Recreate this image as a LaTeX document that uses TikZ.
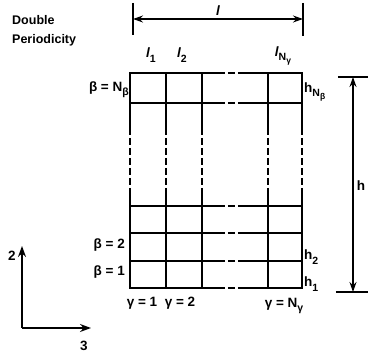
\documentclass[tikz,border=0pt]{standalone}
\usepackage{fontspec}
\setmainfont{Liberation Sans}
\usetikzlibrary{positioning,arrows.meta}

\newcommand{\lowsub}[1]{\raisebox{-0.32em}{\fontsize{10.5}{12}\selectfont#1}}
\newcommand{\lowsubb}[1]{\raisebox{-0.3em}{\fontsize{8.5}{10}\selectfont#1}}

\begin{document}
\begin{tikzpicture}[
    x=1pt, y=-1pt,
    gridline/.style={line width=1.4pt, line cap=rect},
    gapline/.style={line width=1.4pt, dash pattern=on 7pt off 3pt},
    dimline/.style={<->, >={Stealth[length=10pt, width=7pt]}, line width=1.3pt},
    dimtick/.style={line width=1.4pt},
    axisline/.style={->, >={Stealth[length=11pt, width=8pt]}, line width=1.3pt},
    lbl/.style={inner sep=0pt, font=\fontsize{13.5}{15}\selectfont\bfseries},
    title/.style={inner sep=0pt, anchor=west, font=\fontsize{12.5}{15}\selectfont\bfseries}
]
\useasboundingbox (0,0) rectangle (368,356);

% grid of cells
\foreach \cx in {130,166,202,268,302} {
  \draw[gridline] (\cx,73) -- (\cx,128);
  \draw[gapline] (\cx,128) -- (\cx,190);
  \draw[gridline] (\cx,190) -- (\cx,288);
}
\foreach \ry in {73,103,206,233,261,288} {
  \draw[gridline] (130,\ry) -- (218,\ry);
  \draw[gapline] (218,\ry) -- (246,\ry);
  \draw[gridline] (246,\ry) -- (302,\ry);
}

\node[title] (dbl) at (12,20) {Double};
\node[title] (per) at (12,40) {Periodicity};

% width l
\coordinate (lleft) at (133,19);
\coordinate (lright) at (303,19);
\draw[dimtick] (133,3) -- (133,35);
\draw[dimtick] (303,3) -- (303,36);
\draw[dimline] (lleft) -- node[lbl, above=3pt] (lname) {\itshape l} (lright);

% height h
\coordinate (htop) at (353,77);
\coordinate (hbot) at (353,292);
\draw[dimtick] (338,77) -- (368,77);
\draw[dimtick] (336,292) -- (368,292);
\draw[dimline] (htop) -- (hbot);
\node[lbl] (hname) at (361,186) {h};

% column labels
\node[lbl] (l1) at (151,55) {{\itshape l}\lowsub{1}};
\node[lbl] (l2) at (182,55) {{\itshape l}\lowsub{2}};
\node[lbl] (lN) at (283,56) {{\itshape l}\lowsub{N\lowsubb{γ}}};
\node[lbl] (g1) at (142,303) {γ = 1};
\node[lbl] (g2) at (180,303) {γ = 2};
\node[lbl] (gN) at (284,306) {γ = N\lowsub{γ}};

% row labels
\node[lbl, anchor=east] (bN) at (129,90) {β = N\lowsub{β}};
\node[lbl, anchor=east] (b2) at (125,245) {β = 2};
\node[lbl, anchor=east] (b1) at (125,272) {β = 1};
\node[lbl, anchor=west] (hN) at (304,92) {h\lowsub{N\lowsubb{β}}};
\node[lbl, anchor=west] (h2) at (304,257) {h\lowsub{2}};
\node[lbl, anchor=west] (h1) at (304,284) {h\lowsub{1}};

% axes
\coordinate (origin) at (22,328);
\coordinate (ax2) at (22,246);
\coordinate (ax3) at (91,328);
\draw[axisline] (origin) -- (ax2);
\draw[axisline] (origin) -- (ax3);
\node[lbl] (n2) at (12,256) {2};
\node[lbl] (n3) at (84,346) {3};

\end{tikzpicture}
\end{document}
